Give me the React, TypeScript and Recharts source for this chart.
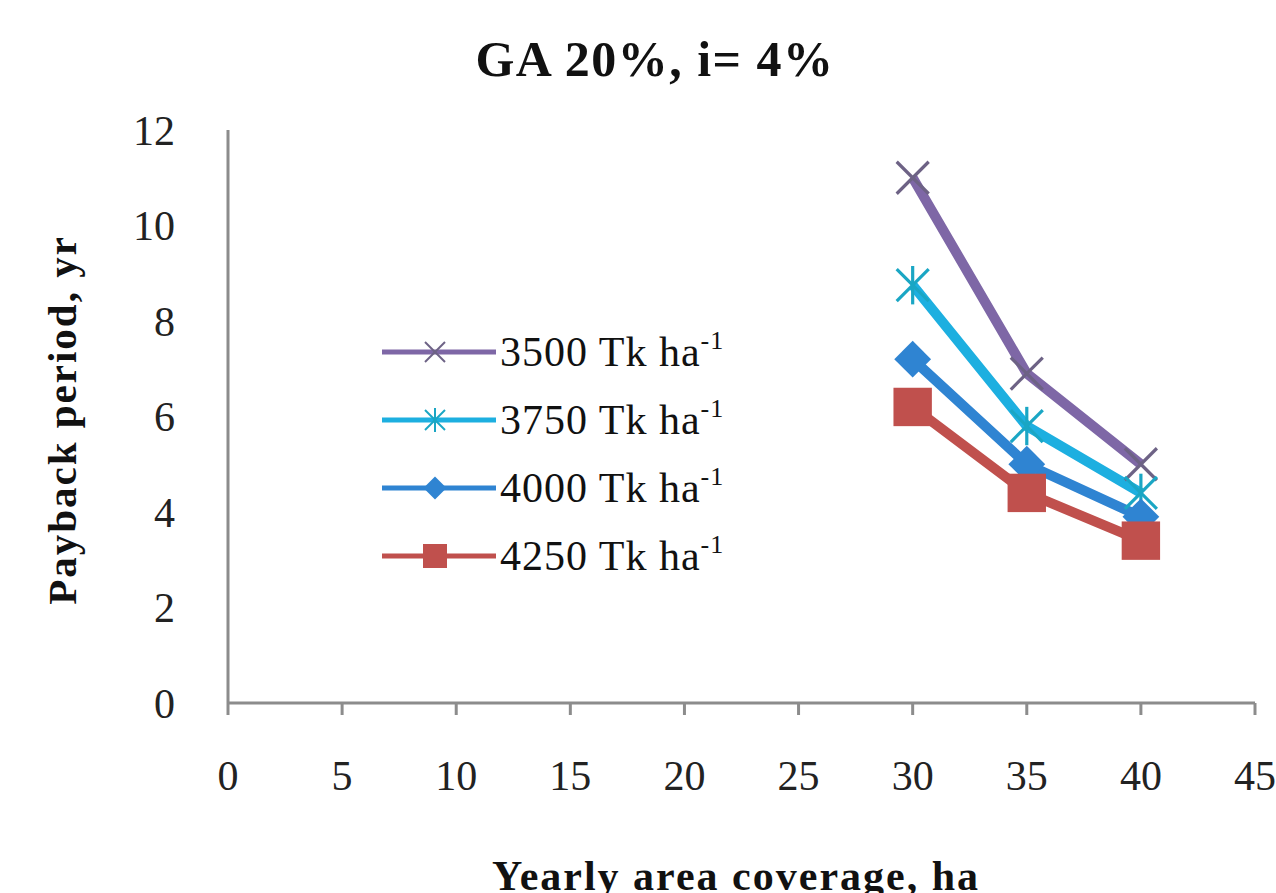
import React from "react";
import { LineChart, Line, XAxis, YAxis } from "recharts";

const areas = [30, 35, 40];
const s3500 = [11.0, 6.9, 5.0];
const s3750 = [8.75, 5.8, 4.4];
const s4000 = [7.2, 5.0, 3.9];
const s4250 = [6.2, 4.4, 3.4];

const xTicks = [0, 5, 10, 15, 20, 25, 30, 35, 40, 45];
const yTicks = [0, 2, 4, 6, 8, 10, 12];

const seriesNames = ["3500", "3750", "4000", "4250"];
const seriesKeys = ["s3500", "s3750", "s4000", "s4250"];
const seriesColors = ["#7E67A6", "#1DAFE0", "#2F84D2", "#C0504D"];
const markerKinds = ["x", "star", "diamond", "square"];

const data = areas.map((a, i) => ({
  x: a,
  s3500: s3500[i],
  s3750: s3750[i],
  s4000: s4000[i],
  s4250: s4250[i],
}));

const FONT = "'Liberation Serif', 'DejaVu Serif', serif";

function Marker({ kind, cx, cy, color, scale }: any) {
  const s = scale;
  if (kind === "x") {
    return (
      <g stroke="#6d6285" strokeWidth={Math.max(2, s / 5)} strokeLinecap="butt">
        <line x1={cx - s} y1={cy - s} x2={cx + s} y2={cy + s} />
        <line x1={cx - s} y1={cy + s} x2={cx + s} y2={cy - s} />
      </g>
    );
  }
  if (kind === "star") {
    return (
      <g stroke="#1aa6c4" strokeWidth={Math.max(2, s / 5)}>
        <line x1={cx - s} y1={cy - s} x2={cx + s} y2={cy + s} />
        <line x1={cx - s} y1={cy + s} x2={cx + s} y2={cy - s} />
        <line x1={cx} y1={cy - s * 1.2} x2={cx} y2={cy + s * 1.2} />
      </g>
    );
  }
  if (kind === "diamond") {
    const d = s * 1.15;
    return (
      <polygon
        points={`${cx},${cy - d} ${cx + d},${cy} ${cx},${cy + d} ${cx - d},${cy}`}
        fill={color}
      />
    );
  }
  const h = s * 1.2;
  return <rect x={cx - h} y={cy - h} width={2 * h} height={2 * h} fill={color} />;
}

function makeDot(idx: number) {
  return (props: any) => {
    const { cx, cy, index } = props;
    if (cx == null || cy == null) return <g key={`d${idx}-${index}`} />;
    return (
      <g key={`d${idx}-${index}`}>
        <Marker kind={markerKinds[idx]} cx={cx} cy={cy} color={seriesColors[idx]} scale={16} />
      </g>
    );
  };
}

function LegendBox() {
  return (
    <div style={{ position: "absolute", left: 380, top: 318, fontFamily: FONT }}>
      {seriesNames.map((name, i) => (
        <div key={name} style={{ display: "flex", alignItems: "center", height: 68 }}>
          <svg width={118} height={40} style={{ display: "block" }}>
            <line x1={2} y1={20} x2={116} y2={20} stroke={seriesColors[i]} strokeWidth={5} />
            <Marker kind={markerKinds[i]} cx={55} cy={20} color={seriesColors[i]} scale={10} />
          </svg>
          <span style={{ fontSize: 42, color: "#111", marginLeft: 2, whiteSpace: "nowrap", letterSpacing: 1 }}>
            {name} Tk ha<sup style={{ fontSize: 26, verticalAlign: "top", position: "relative", top: -2 }}>-1</sup>
          </span>
        </div>
      ))}
    </div>
  );
}

export default function App() {
  return (
    <div style={{ position: "absolute", left: 0, top: 0, width: 1276, height: 893, background: "#fff", overflow: "hidden" }}>
      <LineChart
        width={1276}
        height={893}
        data={data}
        margin={{ top: 130, right: 21, bottom: 0, left: 0 }}
      >
        <XAxis
          type="number"
          dataKey="x"
          domain={[0, 45]}
          ticks={xTicks}
          interval={0}
          height={190}
          stroke="#8c8c8c"
          strokeWidth={3}
          tickSize={12}
          tickMargin={45}
          tick={{ fill: "#222", fontSize: 42, fontFamily: FONT }}
          allowDataOverflow
        />
        <YAxis
          type="number"
          domain={[0, 12]}
          ticks={yTicks}
          interval={0}
          width={228}
          stroke="#8c8c8c"
          strokeWidth={3}
          tickLine={false}
          tickSize={6}
          tickMargin={47}
          tick={{ fill: "#222", fontSize: 42, fontFamily: FONT }}
        />
        {seriesKeys.map((k, i) => (
          <Line
            key={k}
            dataKey={k}
            name={`${seriesNames[i]} Tk ha-1`}
            stroke={seriesColors[i]}
            strokeWidth={10}
            type="linear"
            dot={makeDot(i)}
            activeDot={false}
            isAnimationActive={false}
          />
        ))}
      </LineChart>
      <LegendBox />
      <svg width={1276} height={893} style={{ position: "absolute", left: 0, top: 0, pointerEvents: "none" }}>
        <text x={655} y={76} textAnchor="middle" fontFamily={FONT} fontWeight="bold" fontSize={50} letterSpacing={1.5} fill="#111">
          GA 20%, i= 4%
        </text>
        <text
          x={62}
          y={420}
          transform="rotate(-90, 62, 420)"
          textAnchor="middle"
          dominantBaseline="central"
          fontFamily={FONT}
          fontWeight="bold"
          fontSize={41}
          letterSpacing={2}
          fill="#111"
        >
          Payback period, yr
        </text>
        <text x={736} y={890} textAnchor="middle" fontFamily={FONT} fontWeight="bold" fontSize={42} letterSpacing={2} fill="#111">
          Yearly area coverage, ha
        </text>
      </svg>
    </div>
  );
}
